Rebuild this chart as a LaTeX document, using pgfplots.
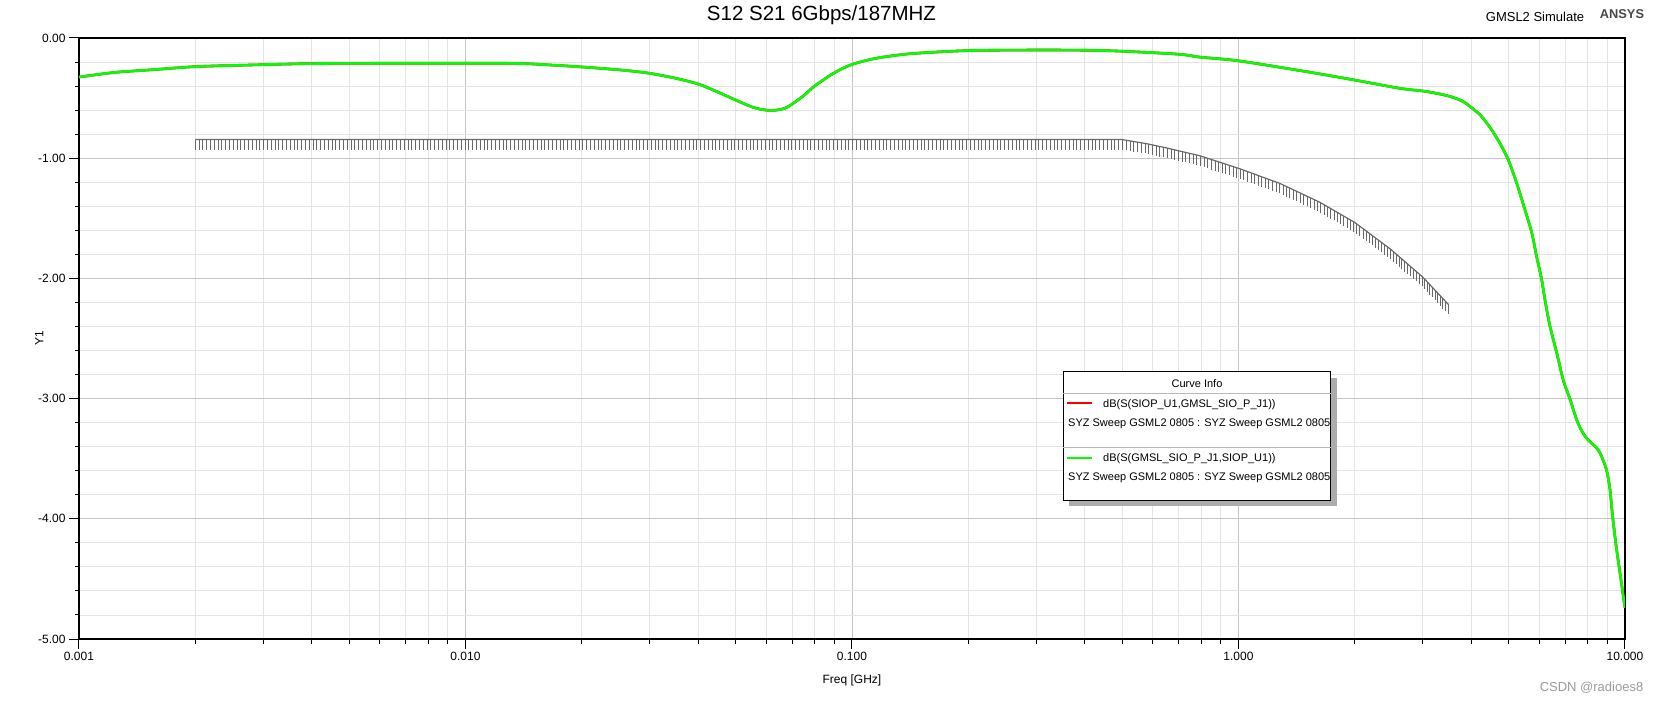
\documentclass[border=0pt]{standalone}
\usepackage{fontspec}
\setmainfont{Liberation Sans}
\usepackage{pgfplots}
\pgfplotsset{compat=1.18}
\usetikzlibrary{decorations.markings}
\definecolor{hfssgreen}{RGB}{0,255,0}
\definecolor{limgray}{RGB}{105,105,105}
\definecolor{gridminor}{RGB}{228,228,228}
\definecolor{gridmajor}{RGB}{198,198,198}
\definecolor{wmgray}{RGB}{155,155,155}
\definecolor{ansysgray}{RGB}{72,72,72}

\pgfplotstableread{
f dB
0.001 -0.325
0.00124 -0.286
0.00155 -0.264
0.00191 -0.242
0.00221 -0.233
0.00275 -0.225
0.0038 -0.214
0.005 -0.211
0.008 -0.210
0.0133 -0.211
0.0167 -0.225
0.0196 -0.239
0.0223 -0.252
0.026 -0.270
0.03 -0.294
0.035 -0.335
0.04 -0.383
0.045 -0.450
0.05 -0.516
0.0555 -0.577
0.06 -0.600
0.0638 -0.600
0.067 -0.585
0.07 -0.550
0.075 -0.480
0.08 -0.400
0.09 -0.290
0.1 -0.220
0.115 -0.170
0.133 -0.140
0.15 -0.125
0.2 -0.105
0.3 -0.100
0.4 -0.102
0.5 -0.110
0.7 -0.135
0.8 -0.160
1.0 -0.190
1.5 -0.280
2.0 -0.350
2.62 -0.419
3.0 -0.441
3.32 -0.466
3.59 -0.494
3.82 -0.530
4.0 -0.577
4.22 -0.640
4.43 -0.724
4.61 -0.807
4.8 -0.904
5.0 -1.020
5.25 -1.210
5.5 -1.420
5.74 -1.620
5.91 -1.820
6.09 -2.010
6.21 -2.180
6.40 -2.400
6.66 -2.620
6.93 -2.850
7.2 -3.000
7.57 -3.210
7.96 -3.330
8.45 -3.410
8.7 -3.480
8.97 -3.600
9.15 -3.760
9.29 -3.980
9.52 -4.260
9.71 -4.450
10.0 -4.740
}\sparam

\pgfplotstableread{
f dB
0.002 -0.845
0.5 -0.845
0.58 -0.880
0.652 -0.915
0.795 -0.980
1.0 -1.084
1.28 -1.210
1.62 -1.365
2.0 -1.535
2.47 -1.755
3.0 -1.990
3.5 -2.220
}\limitline

\begin{document}
\begin{tikzpicture}
\path[use as bounding box] (0,0) rectangle (1659pt,702pt);
\begin{axis}[
  at={(79pt,63pt)}, anchor=south west,
  scale only axis, width=1546pt, height=601pt,
  xmode=log, log basis x=10,
  xmin=0.001, xmax=10, ymin=-5, ymax=0,
  xtick={0.001,0.01,0.1,1,10},
  xticklabels={0.001,0.010,0.100,1.000,10.000},
  minor xtick={0.002,0.003,0.004,0.005,0.006,0.007,0.008,0.009,
               0.02,0.03,0.04,0.05,0.06,0.07,0.08,0.09,
               0.2,0.3,0.4,0.5,0.6,0.7,0.8,0.9,
               2,3,4,5,6,7,8,9},
  ytick={-5,-4,-3,-2,-1,0},
  yticklabels={-5.00,-4.00,-3.00,-2.00,-1.00,0.00},
  minor ytick={-4.8,-4.6,-4.4,-4.2,-3.8,-3.6,-3.4,-3.2,-2.8,-2.6,-2.4,-2.2,
               -1.8,-1.6,-1.4,-1.2,-0.8,-0.6,-0.4,-0.2},
  grid=both,
  major grid style={gridmajor, line width=0.9pt},
  minor grid style={gridminor, line width=0.9pt},
  tick pos=left,
  tick align=outside,
  major tick length=10pt,
  minor tick length=4.5pt,
  tick style={black, line width=1pt},
  axis line style={black, line width=1.1pt},
  ticklabel style={font=\fontsize{12}{14}\selectfont},
  title={S12 S21 6Gbps/187MHZ},
  title style={at={(axis description cs:0.4803,1)}, anchor=base, yshift=11.7pt,
               font=\fontsize{20.5}{24}\selectfont},
  xlabel={Freq [GHz]},
  xlabel style={at={(axis description cs:0.5,0)}, anchor=base, yshift=-44.3pt,
                font=\fontsize{12}{14}\selectfont},
  ylabel={Y1},
  ylabel style={at={(axis description cs:-0.02309,0.5)}, anchor=base,
                font=\fontsize{12}{14}\selectfont},
]
\addplot[red, line width=2.6pt, no marks, smooth, tension=0.5] table[x=f, y=dB] {\sparam};
\addplot[hfssgreen, line width=2.6pt, no marks, smooth, tension=0.5] table[x=f, y=dB] {\sparam};
\addplot[limgray, line width=1.2pt, no marks,
  postaction={decorate},
  decoration={markings,
    mark=between positions 0 and 1 step 3.8pt with {%
      \pgftransformresetnontranslations
      \draw[limgray, line width=0.9pt] (0pt,0pt) -- (0pt,-10pt);}}
] table[x=f, y=dB] {\limitline};
\end{axis}

% header texts
\node[anchor=base, font=\fontsize{13}{15}\selectfont] at (1535pt,680.6pt) {GMSL2 Simulate};
\node[anchor=base, font=\fontsize{12.8}{15}\selectfont\bfseries, text=ansysgray] at (1622pt,683.4pt) {ANSYS};
\node[anchor=base, font=\fontsize{13}{15}\selectfont, text=wmgray] at (1591.5pt,10.3pt) {CSDN @radioes8};

% curve info box
\fill[gray!65] (1069pt,196pt) rectangle (1337pt,324pt);
\draw[fill=white, line width=1pt] (1063.3pt,201.3pt) rectangle (1330.7pt,330pt);
\node[anchor=base, font=\fontsize{11}{13}\selectfont] at (1197pt,314pt) {Curve Info};
\draw[gray!55, line width=0.8pt] (1063.3pt,308.7pt) -- (1330.7pt,308.7pt);
\draw[red, line width=1.6pt] (1067pt,298.7pt) -- (1092pt,298.7pt);
\node[anchor=base west, inner sep=0pt, font=\fontsize{11}{13}\selectfont] at (1103pt,294.7pt) {dB(S(SIOP\_U1,GMSL\_SIO\_P\_J1))};
\node[anchor=base west, inner sep=0pt, font=\fontsize{11}{13}\selectfont] at (1068pt,275.3pt) {SYZ Sweep GSML2 0805 : SYZ Sweep GSML2 0805};
\draw[gray!55, line width=0.8pt] (1063.3pt,254.7pt) -- (1330.7pt,254.7pt);
\draw[hfssgreen, line width=1.6pt] (1067pt,244.3pt) -- (1092pt,244.3pt);
\node[anchor=base west, inner sep=0pt, font=\fontsize{11}{13}\selectfont] at (1103pt,240.3pt) {dB(S(GMSL\_SIO\_P\_J1,SIOP\_U1))};
\node[anchor=base west, inner sep=0pt, font=\fontsize{11}{13}\selectfont] at (1068pt,221.3pt) {SYZ Sweep GSML2 0805 : SYZ Sweep GSML2 0805};
\end{tikzpicture}
\end{document}
